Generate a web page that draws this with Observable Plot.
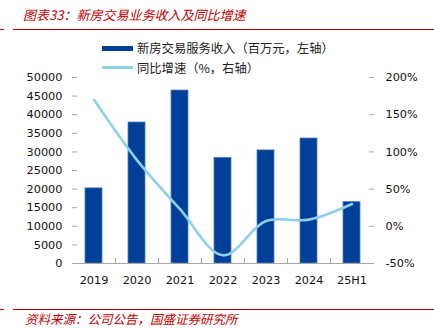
<!DOCTYPE html>
<html>
<head>
<meta charset="utf-8">
<script src="https://cdn.jsdelivr.net/npm/d3@7"></script>
<script src="https://cdn.jsdelivr.net/npm/@observablehq/plot@0.6"></script>
<style>
  html, body { margin: 0; padding: 0; background: #fff; }
  #wrap { position: relative; width: 434px; height: 328px; overflow: hidden; font-family: "Noto Sans CJK SC", sans-serif; }
  #chart { position: absolute; left: 0; top: 0; }
  .red { color: #C00000; font-style: italic; position: absolute; white-space: nowrap; font-weight: 400; }
  .rule { position: absolute; height: 1px; background: #C00000; }
  .leg { position: absolute; white-space: nowrap; font-size: 12.3px; color: #222; line-height: 14px; }
  .sw { position: absolute; }
</style>
</head>
<body>
<div id="wrap">
  <div id="chart"></div>
  <div class="red" style="left:23px; top:6px; font-size:13px; line-height:18px;">图表33：新房交易业务收入及同比增速</div>
  <div class="rule" style="left:0; width:4px; top:29px;"></div>
  <div class="rule" style="left:13px; right:0; top:29px;"></div>
  <div class="sw" style="left:102px; top:46px; width:31px; height:5px; background:#003F98;"></div>
  <div class="leg" style="left:137px; top:41px;">新房交易服务收入（百万元，左轴）</div>
  <div class="sw" style="left:102px; top:66px; width:31px; height:3px; background:#8ED0EA;"></div>
  <div class="leg" style="left:137px; top:61px;">同比增速（%，右轴）</div>
  <div class="rule" style="left:0; width:4px; top:309px;"></div>
  <div class="rule" style="left:13px; right:0; top:309px;"></div>
  <div class="red" style="left:25px; top:310px; font-size:12.5px; line-height:17px;">资料来源：公司公告，国盛证券研究所</div>
</div>
<script>
const categories = ["2019", "2020", "2021", "2022", "2023", "2024", "25H1"];
const revenue = [20200, 37900, 46500, 28400, 30400, 33600, 16500];
const growth = [170, 89, 23, -39, 7, 9, 30];
const leftTicks = [0, 5000, 10000, 15000, 20000, 25000, 30000, 35000, 40000, 45000, 50000];
const rightTicks = [-50, 0, 50, 100, 150, 200];

const leftMax = 50000;
const rMin = -50, rMax = 200;
const toLeft = p => (p - rMin) / (rMax - rMin) * leftMax;
const fromLeft = v => Math.round(v / leftMax * (rMax - rMin) + rMin);

const data = categories.map((c, i) => ({cat: c, rev: revenue[i], g: growth[i]}));

const W = 434, H = 328;
const mL = 72, mR = 61, mT = 77, mB = 65;
const step = (W - mL - mR) / categories.length;
const axisColor = "#A6A6A6";
const font = "DejaVu Sans, Verdana, sans-serif";

const chart = Plot.plot({
  width: W,
  height: H,
  marginLeft: mL,
  marginRight: mR,
  marginTop: mT,
  marginBottom: mB,
  style: {fontFamily: font, fontSize: "11px", color: "#111", background: "transparent"},
  x: {domain: categories, paddingInner: 0.6, paddingOuter: 0.3, label: null},
  y: {domain: [0, leftMax], label: null},
  marks: [
    Plot.barY(data, {x: "cat", y: "rev", fill: "#003F98", stroke: "#4F7FC4", strokeWidth: 0.8}),
    Plot.line(data, {x: "cat", y: d => toLeft(d.g), stroke: "#8ED0EA", strokeWidth: 2.6, curve: "catmull-rom"}),
    // left axis
    Plot.axisY({anchor: "left", ticks: leftTicks, tickFormat: d => String(d), tickSize: -5, tickPadding: 15, stroke: axisColor, label: null, fontSize: 11.3}),
    Plot.ruleX([0], {frameAnchor: "left", y1: 0, y2: leftMax, stroke: axisColor}),
    // right axis
    Plot.axisY({anchor: "right", ticks: rightTicks.map(toLeft), tickFormat: v => fromLeft(v) + "%", tickSize: -5, tickPadding: 17, stroke: axisColor, label: null, fontSize: 11.3}),
    Plot.ruleX([0], {frameAnchor: "right", y1: 0, y2: leftMax, stroke: axisColor}),
    // x axis
    Plot.ruleY([0], {stroke: axisColor}),
    Plot.ruleX(categories.slice(1), {x: d => d, y1: 0, y2: 5 * leftMax / (H - mT - mB), dx: -step / 2, stroke: axisColor}),
    Plot.axisX({tickSize: 0, tickPadding: 12, fontSize: 11.3, label: null})
  ]
});
document.getElementById("chart").appendChild(chart);
</script>
</body>
</html>
